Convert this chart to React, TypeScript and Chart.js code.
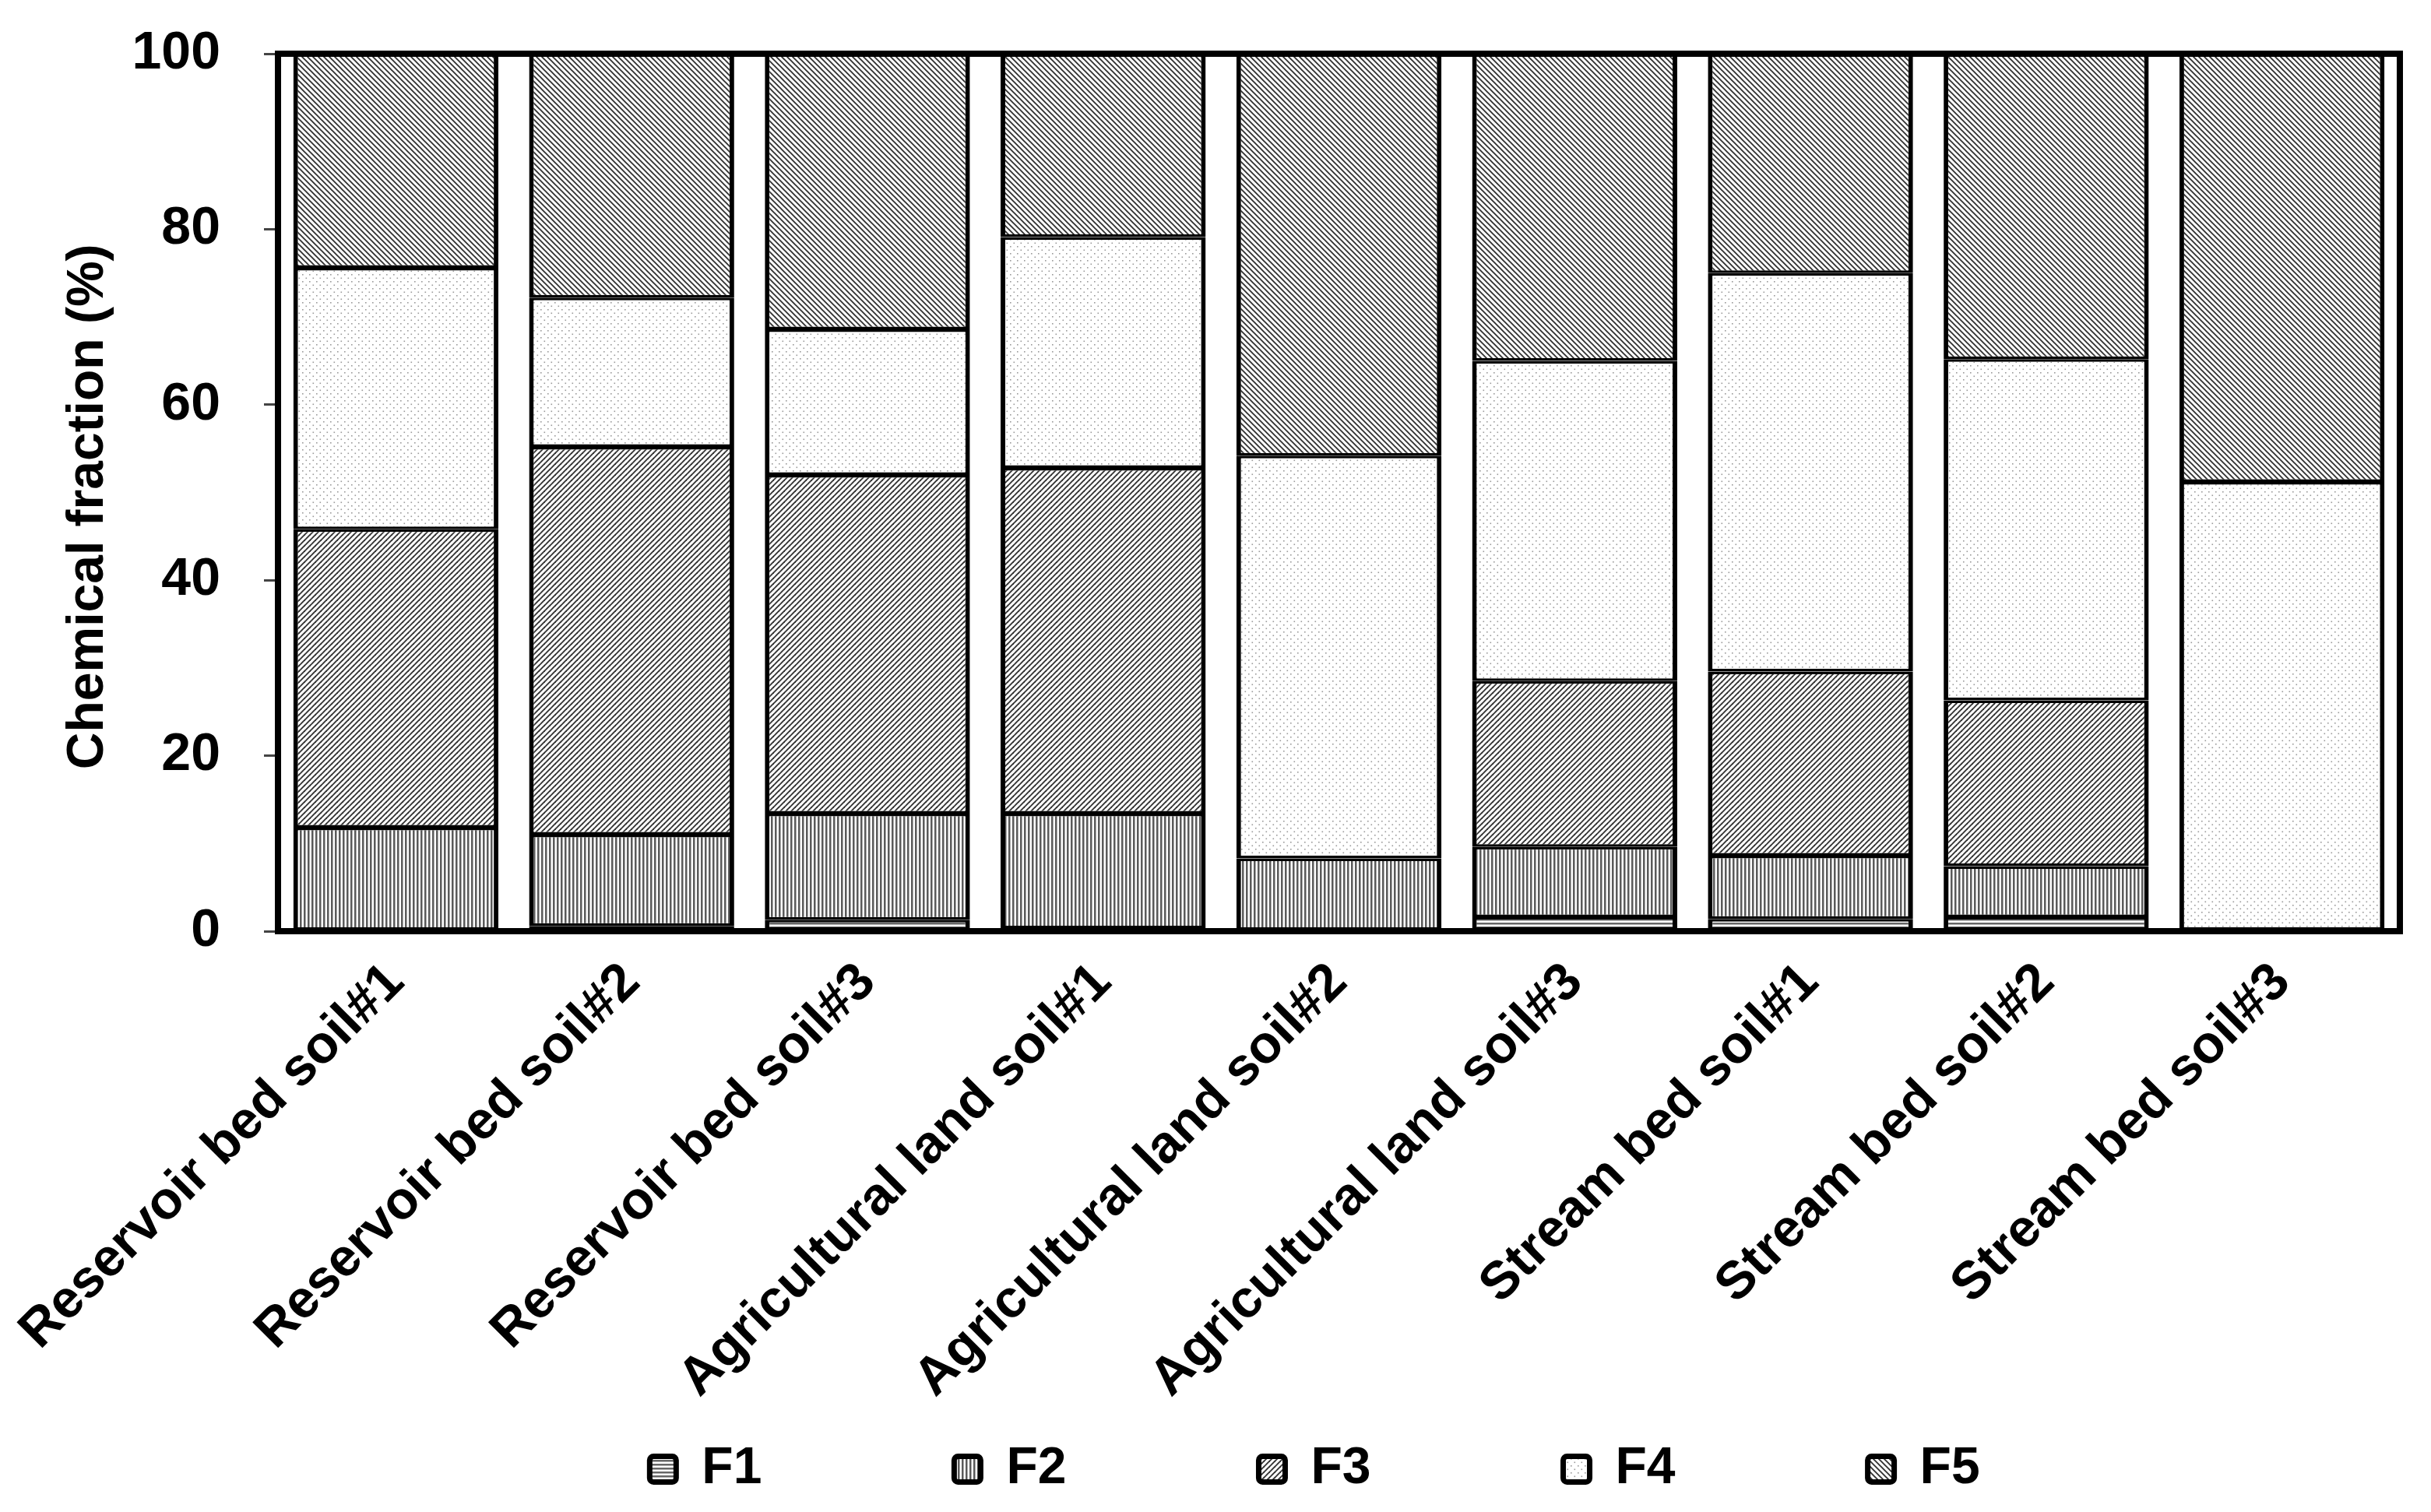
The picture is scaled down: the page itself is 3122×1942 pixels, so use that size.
import React, { useEffect, useRef } from 'react';
import { Chart, registerables } from 'chart.js';

Chart.register(...registerables);

const categories = [
  'Reservoir bed soil#1',
  'Reservoir bed soil#2',
  'Reservoir bed soil#3',
  'Agricultural land soil#1',
  'Agricultural land soil#2',
  'Agricultural land soil#3',
  'Stream bed soil#1',
  'Stream bed soil#2',
  'Stream bed soil#3',
];

const seriesNames = ['F1', 'F2', 'F3', 'F4', 'F5'];

const f1 = [0, 0.6, 1.3, 0.3, 0, 1.6, 1.4, 1.6, 0];
const f2 = [11.8, 10.4, 12.1, 13.1, 8.3, 8.0, 7.2, 5.8, 0];
const f3 = [34.0, 44.2, 38.6, 39.4, 0, 18.9, 21.0, 18.9, 0];
const f4 = [29.8, 17.0, 16.6, 26.3, 45.9, 36.5, 45.4, 38.9, 51.2];
const f5 = [24.4, 27.8, 31.4, 20.9, 45.8, 35.0, 25.0, 34.8, 48.8];

const yTicks = [0, 20, 40, 60, 80, 100];
const yTitle = 'Chemical fraction (%)';

const FONT = '"Liberation Sans", Arial, sans-serif';

function makePattern(kind: string): CanvasPattern | string {
  const c = document.createElement('canvas');
  let w = 8;
  let h = 8;
  if (kind === 'hlines') { w = 8; h = 5; }
  if (kind === 'vlines') { w = 5; h = 5; }
  if (kind === 'diagR' || kind === 'diagL') { w = 7; h = 7; }
  if (kind === 'dots') { w = 9; h = 9; }
  c.width = w;
  c.height = h;
  const g = c.getContext('2d');
  if (!g) return '#ffffff';
  g.fillStyle = '#ffffff';
  g.fillRect(0, 0, w, h);
  if (kind === 'hlines') {
    g.fillStyle = '#666666';
    g.fillRect(0, 0, w, 2.5);
  } else if (kind === 'vlines') {
    g.fillStyle = '#5a5a5a';
    g.fillRect(0, 0, 2.5, h);
  } else if (kind === 'diagL' || kind === 'diagR') {
    g.strokeStyle = '#333333';
    g.lineWidth = 1.9;
    g.lineCap = 'square';
    for (let k = -1; k <= 1; k++) {
      g.beginPath();
      if (kind === 'diagL') {
        g.moveTo(k * w - 1, -1);
        g.lineTo(k * w + w + 1, h + 1);
      } else {
        g.moveTo(k * w - 1, h + 1);
        g.lineTo(k * w + w + 1, -1);
      }
      g.stroke();
    }
  } else if (kind === 'dots') {
    g.fillStyle = '#9a9a9a';
    g.fillRect(1, 1, 1.6, 1.6);
    g.fillRect(5.5, 5.5, 1.6, 1.6);
  }
  const p = g.createPattern(c, 'repeat');
  return p || '#ffffff';
}

export default function App() {
  const ref = useRef<HTMLCanvasElement | null>(null);

  useEffect(() => {
    const canvas = ref.current;
    if (!canvas) return;

    const fills = [
      makePattern('hlines'),
      makePattern('vlines'),
      makePattern('diagR'),
      makePattern('dots'),
      makePattern('diagL'),
    ];
    const values = [f1, f2, f3, f4, f5];

    const frame = {
      id: 'frame',
      afterDatasetsDraw(chart: any) {
        const { ctx, chartArea } = chart;
        ctx.save();
        ctx.strokeStyle = '#000000';
        ctx.lineWidth = 8;
        ctx.lineJoin = 'miter';
        ctx.strokeRect(
          chartArea.left,
          chartArea.top,
          chartArea.right - chartArea.left,
          chartArea.bottom - chartArea.top
        );
        ctx.restore();
      },
    };

    const legendShift = {
      id: 'legendShift',
      afterLayout(chart: any) {
        const l = chart.legend;
        if (l) {
          l.left += 79;
          l.right += 79;
        }
      },
    };

    const chart = new Chart(canvas, {
      type: 'bar',
      data: {
        labels: categories,
        datasets: seriesNames.map((name, i) => ({
          label: name,
          data: values[i],
          backgroundColor: fills[i] as any,
          borderColor: '#000000',
          borderWidth: { left: 6, right: 6, top: 3.5, bottom: 3.5 },
          borderSkipped: false,
          barPercentage: 0.87,
          categoryPercentage: 1,
        })),
      },
      options: {
        animation: false,
        responsive: true,
        maintainAspectRatio: false,
        layout: { padding: { top: 69, right: 40, bottom: 12, left: 0 } },
        plugins: {
          tooltip: { enabled: false },
          legend: {
            position: 'bottom',
            fullSize: false,
            labels: {
              color: '#000000',
              font: { family: FONT, size: 66, weight: 'bold' },
              boxWidth: 34,
              boxHeight: 33,
              padding: 27,
              useBorderRadius: true,
              borderRadius: 5,
              generateLabels(chart: any) {
                const items = Chart.defaults.plugins.legend.labels.generateLabels(chart);
                return items.map((it: any) => ({
                  ...it,
                  text: it.text + ' '.repeat(12),
                  lineWidth: 7,
                  strokeStyle: '#000000',
                }));
              },
            },
          },
        },
        scales: {
          x: {
            stacked: true,
            grid: { display: false },
            border: { display: false },
            ticks: {
              color: '#000000',
              font: { family: FONT, size: 68, weight: 'bold' },
              autoSkip: false,
              minRotation: 45,
              maxRotation: 45,
              padding: 18,
            },
            afterFit(scale: any) {
              scale.height = 631;
              scale.paddingLeft = 0;
              scale.paddingRight = 0;
            },
          },
          y: {
            stacked: true,
            min: 0,
            max: 100,
            grid: {
              display: true,
              drawOnChartArea: false,
              drawTicks: true,
              tickLength: 18,
              lineWidth: 3,
              color: '#444444',
            },
            border: { display: false },
            ticks: {
              color: '#000000',
              font: { family: FONT, size: 68, weight: 'bold' },
              padding: 56,
            },
            afterBuildTicks(scale: any) {
              scale.ticks = yTicks.map((v) => ({ value: v }));
            },
            title: {
              display: true,
              text: yTitle + '  ',
              color: '#000000',
              font: { family: FONT, size: 66, weight: 'bold' },
              padding: { top: 74, bottom: 0 },
            },
            afterFit(scale: any) {
              scale.width = 357;
              scale.paddingTop = 0;
              scale.paddingBottom = 0;
            },
          },
        },
      },
      plugins: [frame, legendShift],
    });

    return () => chart.destroy();
  }, []);

  return (
    <div
      style={{
        position: 'fixed',
        left: 0,
        top: 0,
        width: 3122,
        height: 1942,
        background: '#ffffff',
      }}
    >
      <canvas ref={ref} />
    </div>
  );
}
